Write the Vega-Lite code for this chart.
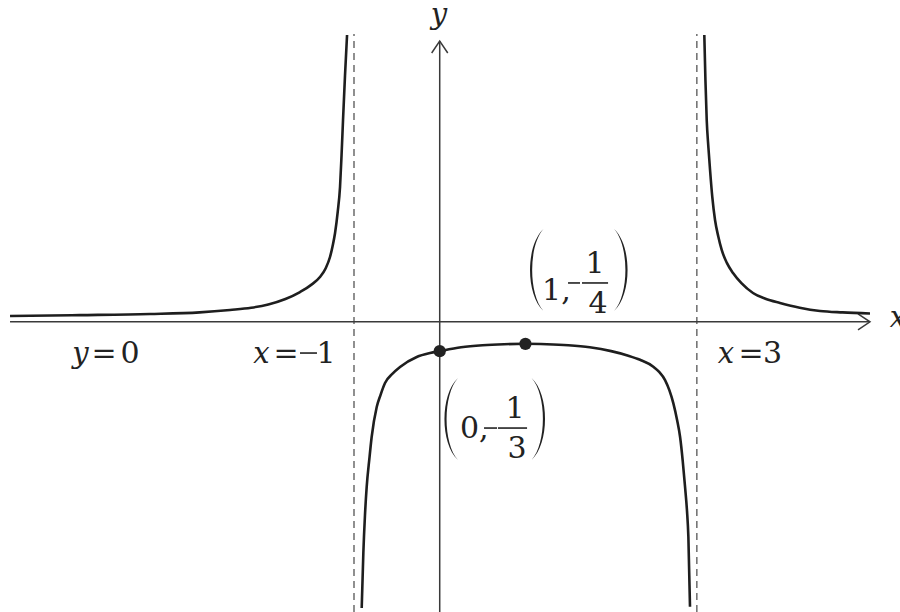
{
  "$schema": "https://vega.github.io/schema/vega-lite/v6.json",
  "width": 900,
  "height": 612,
  "autosize": {"type": "none"},
  "padding": 0,
  "background": "white",
  "config": {"view": {"stroke": null}},
  "datasets": {
    "curve": [
      {"b": "L", "x": -5.013, "y": 0.066}, {"b": "L", "x": -4.2, "y": 0.076}, {"b": "L", "x": -3.38, "y": 0.089},
      {"b": "L", "x": -2.8, "y": 0.108}, {"b": "L", "x": -2.446, "y": 0.135}, {"b": "L", "x": -2.2, "y": 0.16},
      {"b": "L", "x": -2.0, "y": 0.198}, {"b": "L", "x": -1.8, "y": 0.26}, {"b": "L", "x": -1.63, "y": 0.339},
      {"b": "L", "x": -1.5, "y": 0.42}, {"b": "L", "x": -1.397, "y": 0.51}, {"b": "L", "x": -1.33, "y": 0.61},
      {"b": "L", "x": -1.28, "y": 0.737}, {"b": "L", "x": -1.25, "y": 0.86}, {"b": "L", "x": -1.221, "y": 1.01},
      {"b": "L", "x": -1.19, "y": 1.25}, {"b": "L", "x": -1.163, "y": 1.533}, {"b": "L", "x": -1.145, "y": 1.9},
      {"b": "L", "x": -1.128, "y": 2.295}, {"b": "L", "x": -1.105, "y": 2.8}, {"b": "L", "x": -1.081, "y": 3.262},
      {"b": "M", "x": -0.91, "y": -3.255}, {"b": "M", "x": -0.891, "y": -2.629}, {"b": "M", "x": -0.872, "y": -2.2},
      {"b": "M", "x": -0.852, "y": -1.878}, {"b": "M", "x": -0.82, "y": -1.55}, {"b": "M", "x": -0.794, "y": -1.31},
      {"b": "M", "x": -0.735, "y": -0.969}, {"b": "M", "x": -0.69, "y": -0.83}, {"b": "M", "x": -0.638, "y": -0.696},
      {"b": "M", "x": -0.55, "y": -0.59}, {"b": "M", "x": -0.463, "y": -0.514}, {"b": "M", "x": -0.268, "y": -0.4},
      {"b": "M", "x": -0.113, "y": -0.355}, {"b": "M", "x": 0, "y": -0.3333}, {"b": "M", "x": 0.25, "y": -0.29},
      {"b": "M", "x": 0.5, "y": -0.267}, {"b": "M", "x": 0.75, "y": -0.255}, {"b": "M", "x": 1, "y": -0.25},
      {"b": "M", "x": 1.25, "y": -0.255}, {"b": "M", "x": 1.5, "y": -0.267}, {"b": "M", "x": 1.75, "y": -0.29},
      {"b": "M", "x": 2, "y": -0.333}, {"b": "M", "x": 2.2, "y": -0.385}, {"b": "M", "x": 2.337, "y": -0.432},
      {"b": "M", "x": 2.492, "y": -0.51}, {"b": "M", "x": 2.56, "y": -0.57}, {"b": "M", "x": 2.629, "y": -0.662},
      {"b": "M", "x": 2.68, "y": -0.78}, {"b": "M", "x": 2.726, "y": -0.927}, {"b": "M", "x": 2.77, "y": -1.12},
      {"b": "M", "x": 2.804, "y": -1.307}, {"b": "M", "x": 2.835, "y": -1.58}, {"b": "M", "x": 2.862, "y": -1.875},
      {"b": "M", "x": 2.885, "y": -2.15}, {"b": "M", "x": 2.901, "y": -2.444}, {"b": "M", "x": 2.92, "y": -3.24},
      {"b": "R", "x": 3.087, "y": 3.262}, {"b": "R", "x": 3.1, "y": 2.75}, {"b": "R", "x": 3.115, "y": 2.295},
      {"b": "R", "x": 3.135, "y": 1.98}, {"b": "R", "x": 3.154, "y": 1.727}, {"b": "R", "x": 3.18, "y": 1.42},
      {"b": "R", "x": 3.212, "y": 1.158}, {"b": "R", "x": 3.25, "y": 0.97}, {"b": "R", "x": 3.29, "y": 0.817},
      {"b": "R", "x": 3.35, "y": 0.67}, {"b": "R", "x": 3.422, "y": 0.555}, {"b": "R", "x": 3.52, "y": 0.44},
      {"b": "R", "x": 3.655, "y": 0.328}, {"b": "R", "x": 3.8, "y": 0.262}, {"b": "R", "x": 3.97, "y": 0.214},
      {"b": "R", "x": 4.2, "y": 0.16}, {"b": "R", "x": 4.437, "y": 0.123}, {"b": "R", "x": 4.7, "y": 0.107},
      {"b": "R", "x": 5.02, "y": 0.095}
    ],
    "pts": [{"x": 0, "y": -0.3333}, {"x": 1, "y": -0.25}],
    "hline": [{"x": -5.013, "x2": 5.02, "y": 0}],
    "vline": [{"x": 0, "y": -3.3, "y2": 3.194}],
    "asym": [{"x": -1, "y": -3.3, "y2": 3.273}, {"x": 3, "y": -3.3, "y2": 3.273}],
    "xarrow": [{"x": 5.02, "y": 0}],
    "yarrow": [{"x": 0, "y": 3.194}],
    "vars": [
      {"x": -4.191, "y": -0.465, "t": "y"},
      {"x": -2.079, "y": -0.465, "t": "x"},
      {"x": 3.34, "y": -0.465, "t": "x"},
      {"x": 5.347, "y": -0.059, "t": "x"},
      {"x": -0.008, "y": 3.387, "t": "y"}
    ],
    "glyphs": [
      {"x": -3.917, "y": -0.465, "t": "="},
      {"x": -3.613, "y": -0.465, "t": "0"},
      {"x": -1.793, "y": -0.465, "t": "="},
      {"x": -1.326, "y": -0.465, "t": "1"},
      {"x": 3.632, "y": -0.465, "t": "="},
      {"x": 3.883, "y": -0.465, "t": "3"},
      {"x": 0.879, "y": -1.094, "t": "1"},
      {"x": 0.902, "y": -1.549, "t": "3"},
      {"x": 1.812, "y": 0.555, "t": "1"},
      {"x": 1.847, "y": 0.1, "t": "4"}
    ],
    "lead": [
      {"x": 0.237, "y": -1.321, "t": "0,"},
      {"x": 1.194, "y": 0.248, "t": "1,"}
    ],
    "bars": [
      {"x": -1.63, "x2": -1.432, "y": -0.355},
      {"x": 0.517, "x2": 0.669, "y": -1.208},
      {"x": 0.68, "x2": 1.019, "y": -1.208},
      {"x": 1.497, "x2": 1.637, "y": 0.442},
      {"x": 1.66, "x2": 1.964, "y": 0.442}
    ],
    "lp": [{"x": 0.132, "y": -1.105}, {"x": 1.13, "y": 0.589}],
    "rp": [{"x": 1.153, "y": -1.105}, {"x": 2.115, "y": 0.589}]
  },
  "encoding": {
    "x": {"field": "x", "type": "quantitative", "scale": {"domain": [-5.13, 5.37], "nice": false, "zero": false}, "axis": null},
    "y": {"field": "y", "type": "quantitative", "scale": {"domain": [-3.3, 3.66], "nice": false, "zero": false}, "axis": null}
  },
  "layer": [
    {"data": {"name": "asym"}, "mark": {"type": "rule", "color": "#555555", "strokeWidth": 1.3, "strokeDash": [7, 5]}, "encoding": {"y2": {"field": "y2"}}},
    {"data": {"name": "hline"}, "mark": {"type": "rule", "color": "#3a3a3a", "strokeWidth": 1.5}, "encoding": {"x2": {"field": "x2"}}},
    {"data": {"name": "vline"}, "mark": {"type": "rule", "color": "#3a3a3a", "strokeWidth": 1.5}, "encoding": {"y2": {"field": "y2"}}},
    {"data": {"name": "xarrow"}, "mark": {"type": "point", "shape": "M -1 -0.67 L 0 0 L -1 0.67", "size": 576, "filled": false, "stroke": "#3a3a3a", "strokeWidth": 1.5, "opacity": 1}},
    {"data": {"name": "yarrow"}, "mark": {"type": "point", "shape": "M -0.67 1 L 0 0 L 0.67 1", "size": 576, "filled": false, "stroke": "#3a3a3a", "strokeWidth": 1.5, "opacity": 1}},
    {"data": {"name": "curve"}, "mark": {"type": "line", "interpolate": "monotone", "color": "#1e1e1e", "strokeWidth": 2.6, "clip": true}, "encoding": {"detail": {"field": "b"}}},
    {"data": {"name": "pts"}, "mark": {"type": "circle", "size": 150, "color": "#222222", "opacity": 1}},
    {"data": {"name": "vars"}, "mark": {"type": "text", "font": "DejaVu Serif", "fontStyle": "italic", "fontSize": 29, "align": "center", "baseline": "alphabetic", "color": "#222222"}, "encoding": {"text": {"field": "t"}}},
    {"data": {"name": "glyphs"}, "mark": {"type": "text", "font": "DejaVu Serif", "fontSize": 30, "align": "center", "baseline": "alphabetic", "color": "#222222"}, "encoding": {"text": {"field": "t"}}},
    {"data": {"name": "lead"}, "mark": {"type": "text", "font": "DejaVu Serif", "fontSize": 30, "align": "left", "baseline": "alphabetic", "color": "#222222"}, "encoding": {"text": {"field": "t"}}},
    {"data": {"name": "bars"}, "mark": {"type": "rule", "color": "#222222", "strokeWidth": 1.6}, "encoding": {"x2": {"field": "x2"}}},
    {"data": {"name": "lp"}, "mark": {"type": "point", "shape": "M 0.17 -1 C -0.27 -0.6 -0.27 0.6 0.17 1 C -0.2 0.6 -0.2 -0.6 0.17 -1 Z", "size": 6724, "filled": true, "color": "#222222", "opacity": 1}},
    {"data": {"name": "rp"}, "mark": {"type": "point", "shape": "M -0.17 -1 C 0.27 -0.6 0.27 0.6 -0.17 1 C 0.2 0.6 0.2 -0.6 -0.17 -1 Z", "size": 6724, "filled": true, "color": "#222222", "opacity": 1}}
  ]
}
